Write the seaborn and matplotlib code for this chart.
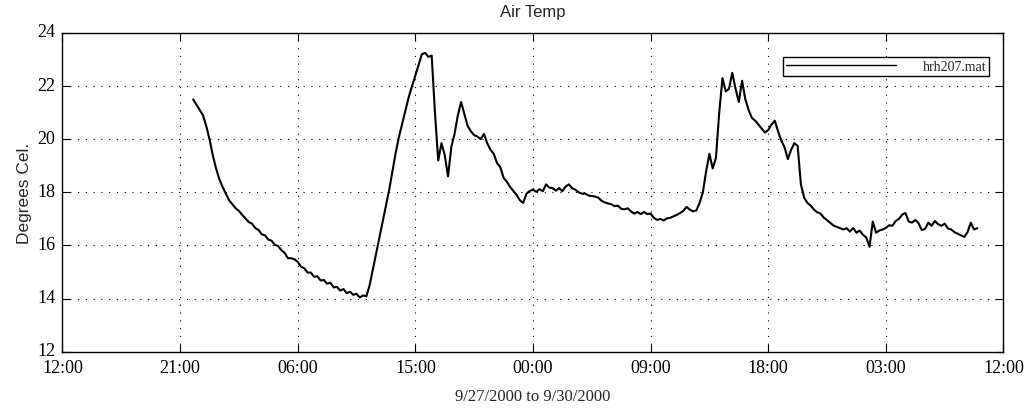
import numpy as np
import pandas as pd
import matplotlib
matplotlib.use('Agg')
import matplotlib.pyplot as plt
import matplotlib.dates as mdates
import matplotlib.transforms as mtransforms
from matplotlib.legend_handler import HandlerLine2D
import seaborn as sns

# Air temperature readings, one every 15 minutes, starting 9/27/2000 22:00
start_time = '2000-09-27 22:00'
step = '15min'
temps = [
    21.50, 21.30, 21.10, 20.90,  # 22:00
    20.50, 20.00, 19.40, 18.90,
    18.50, 18.20, 17.95, 17.70,
    17.55, 17.40, 17.30, 17.15,
    17.02, 16.88, 16.82, 16.66,  # 02:00
    16.58, 16.42, 16.38, 16.22,
    16.18, 16.02, 15.98, 15.82,
    15.72, 15.52, 15.52, 15.48,
    15.38, 15.20, 15.14, 14.98,  # 06:00
    14.98, 14.82, 14.84, 14.68,
    14.70, 14.56, 14.60, 14.42,
    14.44, 14.30, 14.36, 14.20,
    14.26, 14.14, 14.18, 14.04,  # 10:00
    14.12, 14.08, 14.50, 15.10,
    15.70, 16.30, 16.90, 17.50,
    18.10, 18.80, 19.50, 20.10,
    20.60, 21.10, 21.60, 22.00,  # 14:00
    22.40, 22.80, 23.20, 23.25,
    23.10, 23.15, 21.00, 19.20,
    19.85, 19.40, 18.60, 19.70,
    20.20, 20.90, 21.40, 20.95,  # 18:00
    20.50, 20.30, 20.15, 20.10,
    20.00, 20.20, 19.85, 19.60,
    19.45, 19.10, 18.95, 18.55,
    18.40, 18.20, 18.05, 17.90,  # 22:00
    17.70, 17.60, 17.95, 18.05,
    18.10, 18.02, 18.12, 18.04,
    18.30, 18.18, 18.16, 18.06,
    18.16, 18.04, 18.22, 18.30,  # 02:00
    18.15, 18.10, 18.00, 17.95,
    17.95, 17.88, 17.86, 17.84,
    17.80, 17.68, 17.62, 17.58,
    17.55, 17.48, 17.50, 17.38,  # 06:00
    17.36, 17.40, 17.28, 17.20,
    17.26, 17.18, 17.26, 17.18,
    17.20, 17.04, 16.96, 17.00,
    16.94, 17.02, 17.04, 17.10,  # 10:00
    17.15, 17.22, 17.30, 17.45,
    17.35, 17.28, 17.32, 17.60,
    18.00, 18.80, 19.45, 18.90,
    19.30, 21.00, 22.30, 21.80,  # 14:00
    21.90, 22.50, 21.90, 21.40,
    22.20, 21.50, 21.10, 20.80,
    20.70, 20.55, 20.40, 20.25,
    20.35, 20.55, 20.70, 20.30,  # 18:00
    19.95, 19.70, 19.25, 19.60,
    19.85, 19.75, 18.30, 17.80,
    17.60, 17.50, 17.35, 17.25,
    17.20, 17.05, 16.95, 16.85,  # 22:00
    16.75, 16.70, 16.65, 16.60,
    16.65, 16.52, 16.66, 16.48,
    16.56, 16.40, 16.30, 15.95,
    16.90, 16.48, 16.56, 16.60,  # 02:00
    16.66, 16.76, 16.74, 16.92,
    17.00, 17.16, 17.22, 16.90,
    16.86, 16.96, 16.84, 16.58,
    16.62, 16.86, 16.74, 16.92,  # 06:00
    16.80, 16.74, 16.82, 16.64,
    16.60, 16.50, 16.44, 16.38,
    16.32, 16.50, 16.86, 16.60,
    16.65,                       # 10:00
]

axis_start = '2000-09-27 12:00'
axis_end = '2000-09-30 12:00'
y_ticks = [12, 14, 16, 18, 20, 22, 24]

df = pd.DataFrame({
    'time': pd.date_range(start_time, periods=len(temps), freq=step),
    'temp': temps,
})

sns.set_theme(style='ticks')
plt.rcParams['font.family'] = ['Liberation Serif', 'DejaVu Serif']

fig = plt.figure(figsize=(10.31, 4.14), dpi=100)
ax = fig.add_axes([0.0606, 0.1481, 0.9127, 0.7698])

sns.lineplot(data=df, x='time', y='temp', color='black', linewidth=1.5, label='hrh207.mat', ax=ax)

ax.set_xlim(pd.Timestamp(axis_start), pd.Timestamp(axis_end))
ax.set_ylim(y_ticks[0], y_ticks[-1])
ax.set_xticks(pd.date_range(axis_start, axis_end, freq='9h'))
ax.xaxis.set_major_formatter(mdates.DateFormatter('%H:%M'))
ax.set_yticks(y_ticks)

ax.grid(True, color='black', linestyle=(0, (1, 6)), linewidth=0.8)
ax.tick_params(direction='in', top=True, right=True, labelsize=13, colors='black', length=6, width=0.8)
ax.tick_params(axis='x', pad=5)
ax.tick_params(axis='y', pad=5)
# nudge y labels up a touch so "12" doesn't sit on top of the first "12:00"
nudge = mtransforms.ScaledTranslation(0, 3 / 100, fig.dpi_scale_trans)
for lbl in ax.get_yticklabels():
    lbl.set_transform(lbl.get_transform() + nudge)
for s in ax.spines.values():
    s.set_color('black')
    s.set_linewidth(1.0)

ax.set_title('Air Temp', family='Liberation Sans', fontsize=12, pad=12)
ax.set_ylabel('Degrees Cel.', family='Liberation Sans', fontsize=12.5, labelpad=4)
ax.set_xlabel('9/27/2000 to 9/30/2000', fontsize=12, labelpad=9)

# MATLAB-style legend: short line inset in a wide box, label on the right
leg = ax.legend(loc='upper left', bbox_to_anchor=(0.766, 0.924), borderaxespad=0, fontsize=10,
                handlelength=7.9, handletextpad=1.95, borderpad=0.2, fancybox=False, framealpha=1,
                edgecolor='black', handler_map={plt.Line2D: HandlerLine2D(marker_pad=1.17)})
leg.get_frame().set_linewidth(1.0)
for line in leg.get_lines():
    line.set_linewidth(1.0)

fig.savefig('out.png', dpi=100)
